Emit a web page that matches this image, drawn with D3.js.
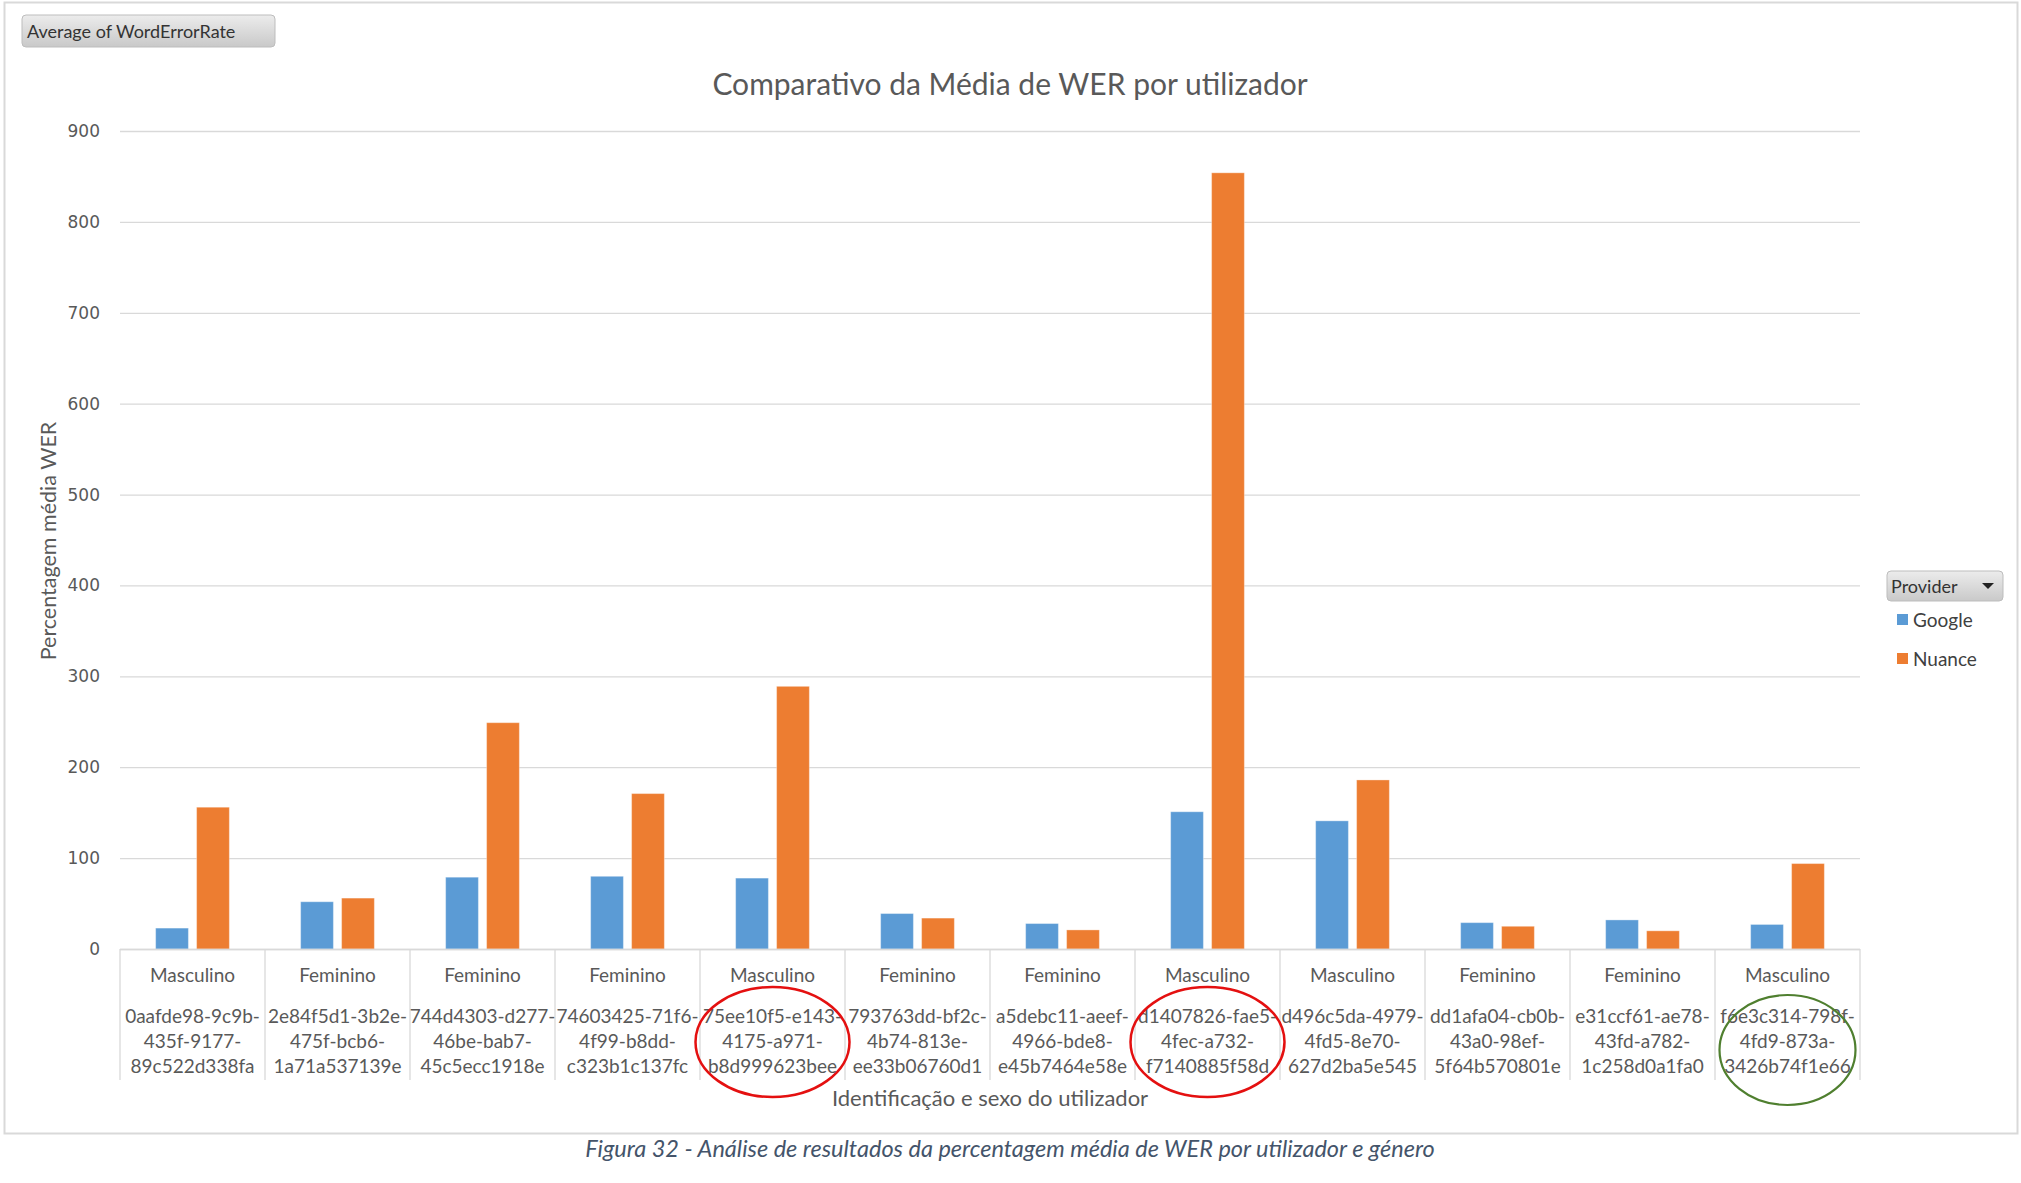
<!DOCTYPE html>
<html>
<head>
<meta charset="utf-8">
<script src="https://cdn.jsdelivr.net/npm/d3@7"></script>
<style>
  body { margin: 0; background: #fff; }
  text { font-family: Lato, "Open Sans", sans-serif; }
</style>
</head>
<body>
<div id="chart"></div>
<script>
// data
const genders = ["Masculino", "Feminino", "Feminino", "Feminino", "Masculino", "Feminino",
                 "Feminino", "Masculino", "Masculino", "Feminino", "Feminino", "Masculino"];
const userIds = ["0aafde98-9c9b-435f-9177-89c522d338fa", "2e84f5d1-3b2e-475f-bcb6-1a71a537139e",
                 "744d4303-d277-46be-bab7-45c5ecc1918e", "74603425-71f6-4f99-b8dd-c323b1c137fc",
                 "75ee10f5-e143-4175-a971-b8d999623bee", "793763dd-bf2c-4b74-813e-ee33b06760d1",
                 "a5debc11-aeef-4966-bde8-e45b7464e58e", "d1407826-fae5-4fec-a732-f7140885f58d",
                 "d496c5da-4979-4fd5-8e70-627d2ba5e545", "dd1afa04-cb0b-43a0-98ef-5f64b570801e",
                 "e31ccf61-ae78-43fd-a782-1c258d0a1fa0", "f6e3c314-798f-4fd9-873a-3426b74f1e66"];
const providers = ["Google", "Nuance"];
const google = [23, 52, 79, 80, 78, 39, 28, 151, 141, 29, 32, 27];
const nuance = [156, 56, 249, 171, 289, 34, 21, 854, 186, 25, 20, 94];
const yTicks = [0, 100, 200, 300, 400, 500, 600, 700, 800, 900];
const redCircled = [4, 7];
const greenCircled = [11];

function init() {
    const W = 2021, H = 1183;
    const plot = { left: 120, right: 1860, top: 131, bottom: 949 };
    const colors = { Google: "#5b9bd5", Nuance: "#ed7d31" };

    const svg = d3.select("#chart")
                  .append("svg")
                  .attr("width", W)
                  .attr("height", H);

    // outer chart frame
    svg.append("rect")
       .attr("x", 4.5).attr("y", 2.5)
       .attr("width", 2013).attr("height", 1131)
       .attr("fill", "none")
       .attr("stroke", "#d9d9d9")
       .attr("stroke-width", 2);

    const x0 = d3.scaleBand()
                 .domain(d3.range(userIds.length))
                 .range([plot.left, plot.right]);

    const x1 = d3.scaleBand()
                 .domain(providers)
                 .range([0, x0.bandwidth()])
                 .paddingInner(0.2)
                 .paddingOuter(0.87);

    const y = d3.scaleLinear()
                .domain([0, 900])
                .range([plot.bottom, plot.top]);

    // gridlines + y labels
    const yAxis = svg.append("g")
       .attr("transform", `translate(${plot.left}, 0)`)
       .call(d3.axisLeft(y).tickValues(yTicks).tickSize(-(plot.right - plot.left)).tickPadding(20));
    yAxis.select(".domain").remove();
    yAxis.selectAll(".tick line").attr("stroke", "#d9d9d9").attr("stroke-width", 1.3);
    yAxis.selectAll(".tick text")
         .style("font-family", "'DejaVu Sans', sans-serif")
         .style("font-size", "17px")
         .attr("fill", "#595959");

    // bars
    const rows = userIds.map((id, i) => ({ i: i, Google: google[i], Nuance: nuance[i] }));
    const groups = svg.append("g").selectAll("g")
       .data(rows)
       .enter()
       .append("g")
       .attr("transform", d => `translate(${x0(d.i)}, 0)`);

    groups.selectAll("rect")
       .data(d => providers.map(p => ({ p: p, v: d[p] })))
       .enter()
       .append("rect")
       .attr("x", d => x1(d.p))
       .attr("y", d => y(d.v))
       .attr("width", x1.bandwidth())
       .attr("height", d => y(0) - y(d.v))
       .attr("fill", d => colors[d.p])
       .attr("stroke", "#ffffff")
       .attr("stroke-opacity", 0.35)
       .attr("stroke-width", 1);

    // category frame below the axis
    const frame = svg.append("g").attr("stroke", "#d9d9d9").attr("stroke-width", 1.3);
    frame.append("line")
         .attr("x1", plot.left).attr("x2", plot.right)
         .attr("y1", plot.bottom + 0.5).attr("y2", plot.bottom + 0.5);
    frame.selectAll(".sep")
         .data(d3.range(userIds.length + 1))
         .enter()
         .append("line")
         .attr("x1", i => i < userIds.length ? x0(i) : plot.right)
         .attr("x2", i => i < userIds.length ? x0(i) : plot.right)
         .attr("y1", plot.bottom)
         .attr("y2", 1080);

    // gender + id labels
    const labels = svg.append("g")
       .selectAll("g")
       .data(userIds)
       .enter()
       .append("g")
       .attr("transform", (d, i) => `translate(${x0(i) + x0.bandwidth() / 2}, 0)`);

    labels.append("text")
          .attr("y", 982)
          .attr("text-anchor", "middle")
          .style("font-size", "19px")
          .attr("fill", "#595959")
          .text((d, i) => genders[i]);

    labels.each(function(id) {
        const parts = id.split("-");
        const lines = [parts[0] + "-" + parts[1] + "-", parts[2] + "-" + parts[3] + "-", parts[4]];
        const g = d3.select(this);
        lines.forEach((l, k) => {
            g.append("text")
             .attr("y", 1023 + k * 25)
             .attr("text-anchor", "middle")
             .style("font-size", "19px")
             .attr("fill", "#595959")
             .text(l);
        });
    });

    // highlight ellipses
    svg.selectAll(".redc")
       .data(redCircled)
       .enter()
       .append("ellipse")
       .attr("cx", i => x0(i) + x0.bandwidth() / 2)
       .attr("cy", 1042)
       .attr("rx", 77)
       .attr("ry", 55)
       .attr("fill", "none")
       .attr("stroke", "#e41010")
       .attr("stroke-width", 2.5);

    svg.selectAll(".greenc")
       .data(greenCircled)
       .enter()
       .append("ellipse")
       .attr("cx", i => x0(i) + x0.bandwidth() / 2)
       .attr("cy", 1050)
       .attr("rx", 68)
       .attr("ry", 55)
       .attr("fill", "none")
       .attr("stroke", "#4f7f2f")
       .attr("stroke-width", 2.2);

    // titles
    svg.append("text")
       .attr("x", 1010).attr("y", 95)
       .attr("text-anchor", "middle")
       .style("font-size", "30px")
       .attr("fill", "#595959")
       .text("Comparativo da Média de WER por utilizador");

    svg.append("text")
       .attr("x", 990).attr("y", 1106)
       .attr("text-anchor", "middle")
       .style("font-size", "22px")
       .attr("fill", "#595959")
       .text("Identificação e sexo do utilizador");

    svg.append("text")
       .attr("transform", "rotate(-90)")
       .attr("x", -541).attr("y", 56)
       .attr("text-anchor", "middle")
       .style("font-size", "21.5px")
       .attr("fill", "#595959")
       .text("Percentagem média WER");

    // field button top-left
    const grad = svg.append("defs").append("linearGradient")
       .attr("id", "btn").attr("x1", 0).attr("x2", 0).attr("y1", 0).attr("y2", 1);
    grad.append("stop").attr("offset", "0%").attr("stop-color", "#ececec");
    grad.append("stop").attr("offset", "100%").attr("stop-color", "#c9c9c9");

    svg.append("rect")
       .attr("x", 22).attr("y", 15).attr("width", 253).attr("height", 32)
       .attr("rx", 4)
       .attr("fill", "url(#btn)")
       .attr("stroke", "#bdbdbd");
    svg.append("text")
       .attr("x", 27).attr("y", 38)
       .style("font-size", "18px")
       .attr("fill", "#333")
       .text("Average of WordErrorRate");

    // legend
    svg.append("rect")
       .attr("x", 1887).attr("y", 571).attr("width", 116).attr("height", 30)
       .attr("rx", 4)
       .attr("fill", "url(#btn)")
       .attr("stroke", "#bdbdbd");
    svg.append("text")
       .attr("x", 1891).attr("y", 593)
       .style("font-size", "18px")
       .attr("fill", "#333")
       .text("Provider");
    svg.append("path")
       .attr("d", "M1982,583 L1994,583 L1988,589 Z")
       .attr("fill", "#222");

    const legend = svg.append("g").attr("transform", "translate(1897, 614)");
    providers.forEach((p, i) => {
        const row = legend.append("g").attr("transform", `translate(0, ${i * 39})`);
        row.append("rect")
           .attr("width", 11).attr("height", 11)
           .attr("fill", colors[p]);
        row.append("text")
           .attr("x", 16).attr("y", 13)
           .style("font-size", "19px")
           .attr("fill", "#404040")
           .text(p);
    });

    // figure caption
    svg.append("text")
       .attr("x", 1010).attr("y", 1157)
       .attr("text-anchor", "middle")
       .style("font-size", "23.5px")
       .style("font-style", "italic")
       .attr("fill", "#44546a")
       .text("Figura 32 - Análise de resultados da percentagem média de WER por utilizador e género");
}
window.onload = init;
</script>
</body>
</html>
